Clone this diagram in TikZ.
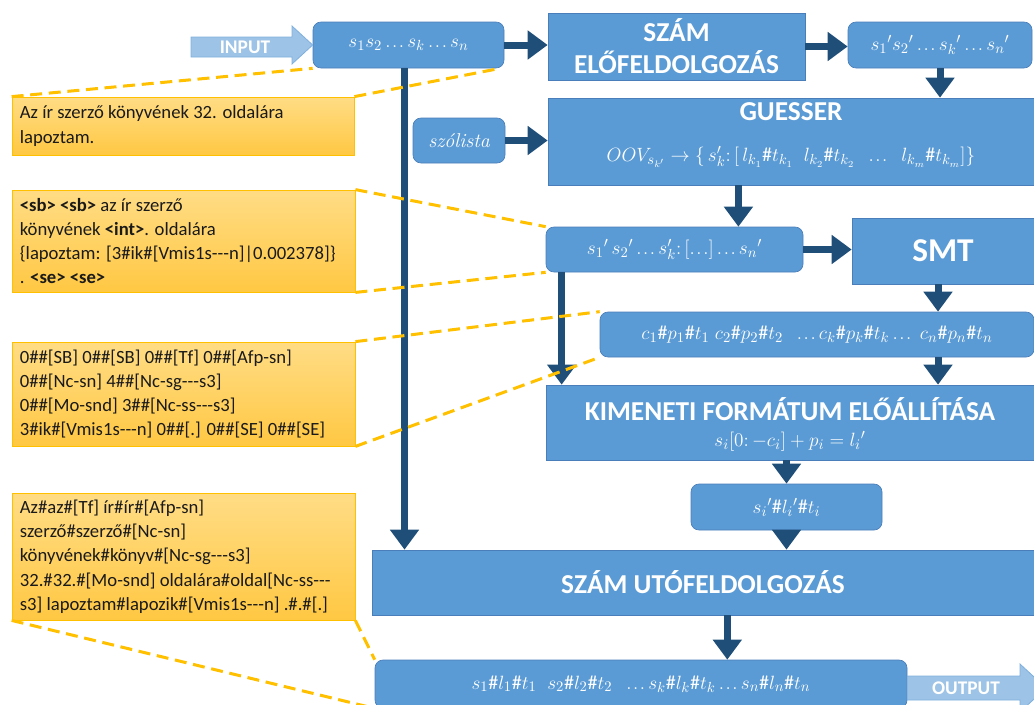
\documentclass[tikz,border=0pt]{standalone}
\usepackage{fontspec}
\setmainfont{Carlito}
\usetikzlibrary{arrows.meta,calc}

\definecolor{procblue}{HTML}{5B9BD5}
\definecolor{procedge}{HTML}{4A7EBB}
\definecolor{flownavy}{HTML}{1F4E79}
\definecolor{ioblue}{HTML}{9DC3E6}
\definecolor{ioedge}{HTML}{7FB0DD}
\definecolor{notetop}{HTML}{FFDC85}
\definecolor{notebottom}{HTML}{FFC843}
\definecolor{noteedge}{HTML}{FFC000}
\definecolor{leadercol}{HTML}{FFC000}
\definecolor{notetextcol}{HTML}{1A1A1A}

% three hyphens that must not merge into an em dash
\newcommand\tdash{-\kern0pt-\kern0pt-}
% tightly set ellipsis for the formulas
\newcommand\el{\mathinner{.\mkern1.5mu.\mkern1.5mu.}}

\begin{document}
\begin{tikzpicture}[x=0.75pt,y=-0.75pt,
  boxsize/.style 2 args={minimum width={#1*0.75pt},minimum height={#2*0.75pt}},
  proc/.style={fill=procblue,draw=procedge,line width=0.5pt,inner sep=0pt,
    text=white,align=center,font=\fontsize{20.5}{24}\selectfont\bfseries},
  data/.style={proc,rounded corners=6pt,font=\fontsize{15}{17}\selectfont},
  blocktitle/.style={text=white,inner sep=0pt,font=\fontsize{20.5}{24}\selectfont\bfseries},
  formula/.style={text=white,inner sep=0pt,font=\fontsize{15}{17}\selectfont},
  note/.style={top color=notetop,bottom color=notebottom,draw=noteedge,
    line width=0.6pt,inner sep=0pt},
  notetext/.style={anchor=west,inner sep=0pt,align=left,text=notetextcol,
    font=\fontsize{14}{18.2}\selectfont},
  flow/.style={draw=flownavy,line width=5.25pt,-{Triangle[length=15pt,width=21pt]}},
  leader/.style={draw=leadercol,line width=2.25pt,dash pattern=on 9pt off 5pt},
  ioarrow/.style={fill=ioblue,draw=ioedge,line width=0.6pt},
  iotext/.style={text=white,inner sep=0pt,font=\fontsize{14.5}{16}\selectfont\bfseries}
]
\useasboundingbox (0,0) rectangle (1034,704);

% ---------- processing blocks and data boxes ----------
\node[data, boxsize={191}{46}] (src) at (408.5,45) {$s_1s_2\el s_k\el s_n$};
\node[proc, boxsize={257}{67}] (pre) at (676.5,46.5) {SZÁM\\ELŐFELDOLGOZÁS};
\node[data, boxsize={184}{46}] (srcp) at (940,45)
  {$s_1{}'s_2{}'\el s_k{}'\el s_n{}'$};

\node[data, boxsize={92}{45}] (wordlist) at (459,140.5)
  {\fontfamily{lmr}\selectfont\itshape szólista};
\node[proc, boxsize={486}{87}] (guesser) at (791,141.5) {};
\node[blocktitle] (guesser-title) at ($(guesser.north)+(0,14)$) {GUESSER};
\node[formula] (guesser-rule) at ($(guesser.north)+(0,59)$)
  {$OOV_{s_{k'}}\rightarrow\{\,s'_k\colon[\,l_{k_1}\#t_{k_1}\;\;l_{k_2}\#t_{k_2}\;\;\el\;\;l_{k_m}\#t_{k_m}]\}$};

\node[data, boxsize={257}{45}] (cand) at (674.5,249.5)
  {$s_1{}'\,s_2{}'\el s'_k\colon[\el]\el s_n{}'$};
\node[proc, boxsize={182}{66}, font=\fontsize{25}{30}\selectfont\bfseries] (smt) at (943,251) {SMT};

\node[data, boxsize={434}{45}] (codes) at (817,334.5)
  {$c_1\#p_1\#t_1\;c_2\#p_2\#t_2\;\;\el c_k\#p_k\#t_k\el\;c_n\#p_n\#t_n$};

\node[proc, boxsize={488}{75}] (format) at (790,422.5) {};
\node[blocktitle] (format-title) at ($(format.north)+(0,24)$) {KIMENETI FORMÁTUM ELŐÁLLÍTÁSA};
\node[formula] (format-rule) at ($(format.north)+(0,57)$) {$s_i[0\colon{-c_i}]+p_i=l_i{}'$};

\node[data, boxsize={191}{46}] (lemma) at (786.5,507) {$s_i{}'\#l_i{}'\#t_i$};
\node[proc, boxsize={662}{65}] (post) at (703,582.5) {SZÁM UTÓFELDOLGOZÁS};
\node[data, boxsize={532}{48}] (result) at (641,684)
  {$s_1\#l_1\#t_1\;\;s_2\#l_2\#t_2\;\;\el s_k\#l_k\#t_k\el s_n\#l_n\#t_n$};

% ---------- input / output arrows ----------
\path[ioarrow] (191,37) -- (292,37) -- (292,26) -- (src.west) -- (292,64) -- (292,57) -- (191,57) -- cycle;
\node[iotext] (inlabel) at (245,47) {INPUT};
\path[ioarrow] (result.east |- 0,676) -- (1020,676) -- (1020,664) -- (1046,688)
  -- (1020,712) -- (1020,700) -- (result.east |- 0,700) -- cycle;
\node[iotext] (outlabel) at (966,688) {OUTPUT};

% ---------- flow connectors ----------
\draw[flow] (src.east) -- (src.east -| pre.west);
\draw[flow] (pre.east) -- (pre.east -| srcp.west);
\draw[flow] (srcp.south) -- (srcp.south |- guesser.north);
\draw[flow] (wordlist.east) -- (wordlist.east -| guesser.west);
\coordinate (g2c) at ($(cand.north west)!0.748!(cand.north east)$);
\draw[flow] (g2c |- guesser.south) -- (g2c);
\draw[flow] (cand.east) -- (cand.east -| smt.west);
\coordinate (smtx) at ($(smt.south)+(-5,0)$);
\draw[flow] (smtx) -- (smtx |- codes.north);
\draw[flow] (smtx |- codes.south) -- (smtx |- format.north);
\coordinate (c2f) at ($(cand.south west)+(16,0)$);
\draw[flow] (c2f) -- (c2f |- format.north);
\draw[flow] (lemma.north |- format.south) -- (lemma.north);
\draw[flow] (lemma.south) -- (lemma.south |- post.north);
\coordinate (s2p) at ($(src.south)+(-4,0)$);
\draw[flow] (s2p) -- (s2p |- post.north);
\coordinate (p2r) at ($(result.north west)!0.662!(result.north east)$);
\draw[flow] (p2r |- post.south) -- (p2r);

% ---------- example notes ----------
\node[note, boxsize={342}{58}] (note1) at (183,126) {};
\node[notetext] (note1-text) at ($(note1.west)+(8,0)$)
  {Az ír szerző könyvének 32. oldalára\\lapoztam.};

\node[note, boxsize={343}{102}] (note2) at (183.5,241) {};
\node[notetext] (note2-text) at ($(note2.west)+(8,0)$)
  {\textbf{<sb> <sb>} az ír szerző\\
   könyvének \textbf{<int>}. oldalára\\
   \{lapoztam: [3\#ik\#[Vmis1s\tdash n]|0.002378]\}\\
   . \textbf{<se> <se>}};

\node[note, boxsize={343}{104}] (note3) at (183.5,394) {};
\node[notetext] (note3-text) at ($(note3.west)+(8,0)$)
  {0\#\#[SB] 0\#\#[SB] 0\#\#[Tf] 0\#\#[Afp-sn]\\
   0\#\#[Nc-sn] 4\#\#[Nc-sg\tdash s3]\\
   0\#\#[Mo-snd] 3\#\#[Nc-ss\tdash s3]\\
   3\#ik\#[Vmis1s\tdash n] 0\#\#[.] 0\#\#[SE] 0\#\#[SE]};

\node[note, boxsize={343}{127}] (note4) at (183.5,556.5) {};
\node[notetext] (note4-text) at ($(note4.west)+(8,0)$)
  {Az\#az\#[Tf] ír\#ír\#[Afp-sn]\\
   szerző\#szerző\#[Nc-sn]\\
   könyvének\#könyv\#[Nc-sg\tdash s3]\\
   32.\#32.\#[Mo-snd] oldalára\#oldal[Nc-ss\tdash\\
   s3] lapoztam\#lapozik\#[Vmis1s\tdash n] .\#.\#[.]};

% ---------- dashed leaders from notes to the data they describe ----------
\draw[leader] (note1.north west) -- (src.south west);
\draw[leader] (note1.north east) -- ($(src.south east)+(-4,0)$);
\draw[leader] (note2.north east) -- (cand.north west);
\draw[leader] (note2.south east) -- (cand.south west);
\draw[leader] (note3.north east) -- (codes.north west);
\draw[leader] (note3.south east) -- (codes.south west);
\draw[leader] (note4.south east) -- (result.north west);
\draw[leader] (note4.south west) -- (result.south west);
\end{tikzpicture}
\end{document}
